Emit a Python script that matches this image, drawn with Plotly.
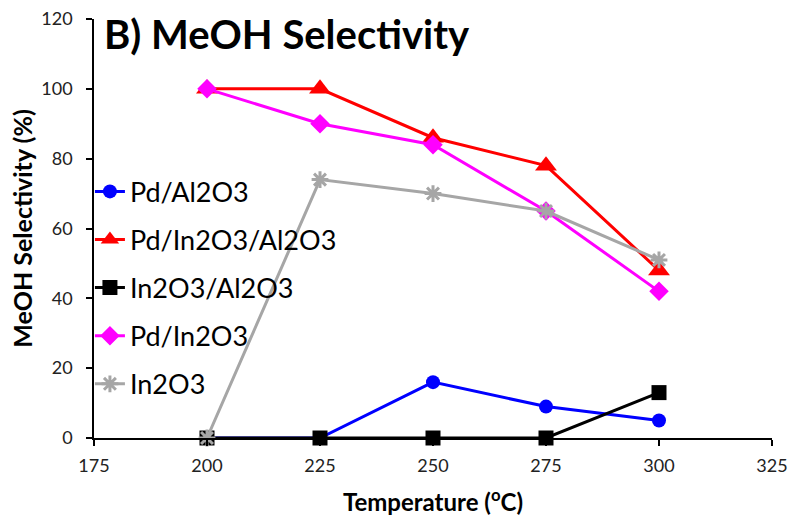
import plotly.graph_objects as go

temps = [200, 225, 250, 275, 300]
pd_al2o3 = [0, 0, 16, 9, 5]
pd_in2o3_al2o3 = [100, 100, 86, 78, 48]
in2o3_al2o3 = [0, 0, 0, 0, 13]
pd_in2o3 = [100, 90, 84, 65, 42]
in2o3 = [0, 74, 70, 65, 51]

x_ticks = [175, 200, 225, 250, 275, 300, 325]
y_ticks = [0, 20, 40, 60, 80, 100, 120]

FONT = "Lato, 'Open Sans', sans-serif"

series = [
    ("Pd/Al2O3", pd_al2o3, "#0000FF", "circle", 14),
    ("Pd/In2O3/Al2O3", pd_in2o3_al2o3, "#FF0000", "triangle-up", 19),
    ("In2O3/Al2O3", in2o3_al2o3, "#000000", "square", 15),
    ("Pd/In2O3", pd_in2o3, "#FF00FF", "diamond", 15),
    ("In2O3", in2o3, "#A6A6A6", "asterisk-open", 14),
]

fig = go.Figure()
for i, (name, vals, color, sym, size) in enumerate(series):
    marker = dict(symbol=sym, size=size, color=color)
    if sym == "asterisk-open":
        marker["line"] = dict(color=color, width=3)
    fig.add_trace(go.Scatter(
        x=temps, y=vals, name=name, mode="lines+markers",
        line=dict(color=color, width=3),
        marker=marker, cliponaxis=False, legendgroup=f"g{i}",
    ))

fig.update_layout(
    width=791, height=517,
    margin=dict(l=94, r=19, t=19, b=79, autoexpand=False),
    plot_bgcolor="white", paper_bgcolor="white",
    font=dict(family=FONT, color="#000000"),
    showlegend=True,
    legend=dict(x=-0.006, y=0.646, xanchor="left", yanchor="top",
                font=dict(size=27, color="#000000"),
                tracegroupgap=10, itemwidth=30,
                bgcolor="rgba(0,0,0,0)"),
    annotations=[dict(text="<b>B) MeOH Selectivity</b>", xref="paper", yref="paper",
                      x=0.012, y=0.964, xanchor="left", yanchor="middle", showarrow=False,
                      font=dict(size=40, color="#000000", family=FONT))],
)
fig.update_xaxes(
    range=[175, 325], tickvals=x_ticks, ticktext=[str(v) for v in x_ticks],
    showgrid=False, zeroline=False, showline=True, linecolor="#000000", linewidth=1.5,
    ticks="outside", ticklen=6, tickcolor="#000000", tickwidth=1.5,
    tickfont=dict(size=18, color="#222222"), ticklabelstandoff=5, automargin=False,
    title=dict(text="<b>Temperature (<sup>o</sup>C)</b>", font=dict(size=24), standoff=19),
)
fig.update_yaxes(
    range=[0, 120], tickvals=y_ticks, ticktext=[str(v) for v in y_ticks],
    showgrid=False, zeroline=False, showline=True, linecolor="#000000", linewidth=1.5,
    ticks="outside", ticklen=6, tickcolor="#000000", tickwidth=1.5,
    tickfont=dict(size=18, color="#222222"), ticklabelstandoff=10, automargin=False,
    title=dict(text="<b>MeOH Selectivity (%)</b>", font=dict(size=25), standoff=2),
)

fig.write_html("out.html")
